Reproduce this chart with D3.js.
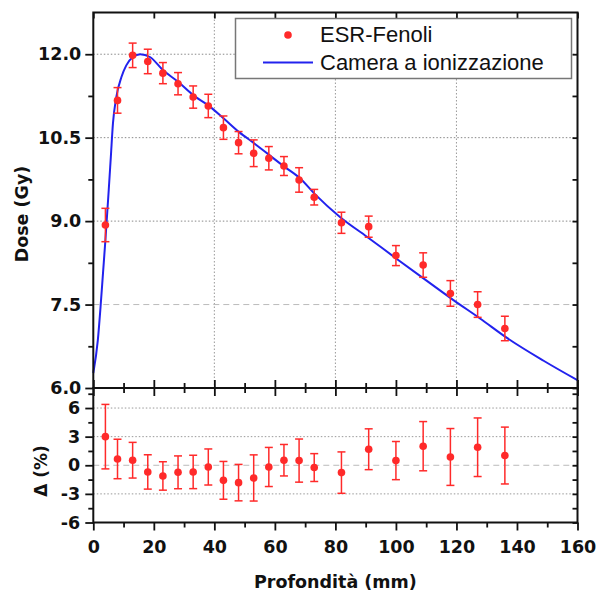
<!DOCTYPE html>
<html>
<head>
<meta charset="utf-8">
<script src="https://d3js.org/d3.v7.min.js"></script>
<style>
  body { margin:0; background:#fff; }
  svg { display:block; }
  .tick text { font-family:"DejaVu Sans", sans-serif; font-weight:bold; font-size:17.5px; fill:#111; }
  .tick line { stroke:#111; stroke-width:1.8; }
  .domain { display:none; }
</style>
</head>
<body>
<svg id="chart"></svg>
<script>
// punti ESR-Fenoli (profondita in mm)
var depth    = [4, 8, 13, 18, 23, 28, 33, 38, 43, 48, 53, 58, 63, 68, 73, 82, 91, 100, 109, 118, 127, 136];
var doseESR  = [8.93, 11.17, 11.98, 11.87, 11.66, 11.47, 11.23, 11.07, 10.68, 10.41, 10.22, 10.13, 9.99, 9.74, 9.43, 8.97, 8.90, 8.38, 8.21, 7.70, 7.50, 7.07];
var doseErr  = [0.30, 0.23, 0.22, 0.22, 0.19, 0.20, 0.20, 0.21, 0.21, 0.20, 0.24, 0.21, 0.17, 0.22, 0.14, 0.19, 0.19, 0.18, 0.22, 0.23, 0.23, 0.22];
var delta    = [3.0, 0.66, 0.53, -0.70, -1.12, -0.74, -0.70, -0.18, -1.58, -1.82, -1.33, -0.18, 0.53, 0.49, -0.24, -0.77, 1.68, 0.49, 2.0, 0.87, 1.89, 1.02];
var deltaErr = [3.38, 2.07, 1.87, 1.80, 1.49, 1.72, 1.75, 1.89, 1.98, 1.91, 2.42, 2.05, 1.65, 2.26, 1.46, 2.17, 2.14, 2.0, 2.58, 2.98, 3.07, 2.98];

// curva camera a ionizzazione
var chamberDepth = [0, 1.5, 2.4, 3.2, 4.0, 5.1, 5.8, 6.5, 7.6, 9.3, 10.9, 13.1, 15.5, 18.7, 23.1, 28.1, 33.1, 38.0, 43.2, 48.2, 53.1, 58.1, 63.1, 68.3, 73.3, 81.6, 90.4, 100.3, 109.1, 119, 127.8, 136.7, 148.8, 160];
var chamberDose  = [6.27, 6.86, 7.46, 8.06, 8.66, 9.56, 10.16, 10.76, 11.23, 11.59, 11.80, 11.95, 12.0, 11.95, 11.71, 11.50, 11.26, 11.08, 10.84, 10.60, 10.40, 10.19, 9.98, 9.77, 9.48, 9.07, 8.72, 8.32, 7.97, 7.58, 7.25, 6.90, 6.49, 6.14];

var xTicks      = [0, 20, 40, 60, 80, 100, 120, 140, 160];
var xMinor      = [10, 30, 50, 70, 90, 110, 130, 150];
var xGrid       = [40, 80, 120];
var doseTicks   = [6.0, 7.5, 9.0, 10.5, 12.0];
var doseMinor   = [6.75, 8.25, 9.75, 11.25];
var deltaTicks  = [-6, -3, 0, 3, 6];
var deltaMinor  = [-4.5, -1.5, 1.5, 4.5, 7.5];

var legendNames = ["ESR-Fenoli", "Camera a ionizzazione"];

var red = "#ff2a2a";
var blue = "#2222ee";

var screen = {width:596, height:599};
var left = 93.3, right = 577.5;
var topY = 12.5, midY = 388, botY = 522.5;

var svg = d3.select("#chart")
    .attr("width", screen.width)
    .attr("height", screen.height);

svg.append("rect").attr("width", screen.width).attr("height", screen.height).attr("fill", "#fff");

var xScale = d3.scaleLinear().domain([0, 160]).range([left, right]);
var yDose  = d3.scaleLinear().domain([6, 12.75]).range([midY, topY]);
var yDelta = d3.scaleLinear().domain([-6, 8.1]).range([botY, midY]);

// griglia
var drawGrid = function()
{
    var g = svg.append("g");
    g.selectAll(".vg")
        .data(xGrid)
        .enter()
        .append("line")
        .attr("x1", function(d){ return xScale(d); })
        .attr("x2", function(d){ return xScale(d); })
        .attr("y1", topY)
        .attr("y2", midY)
        .attr("stroke", "#999")
        .attr("stroke-width", 1)
        .attr("stroke-dasharray", "1.5,2");

    g.selectAll(".hg")
        .data(doseTicks.slice(1))
        .enter()
        .append("line")
        .attr("x1", left)
        .attr("x2", right)
        .attr("y1", function(d){ return yDose(d); })
        .attr("y2", function(d){ return yDose(d); })
        .attr("stroke", function(d){ return d == 7.5 ? "#bbb" : "#888"; })
        .attr("stroke-width", 1)
        .attr("stroke-dasharray", function(d){ return d == 7.5 ? "6,4" : "1.5,2"; });

    g.selectAll(".dg")
        .data(deltaTicks.slice(1))
        .enter()
        .append("line")
        .attr("x1", left)
        .attr("x2", right)
        .attr("y1", function(d){ return yDelta(d); })
        .attr("y2", function(d){ return yDelta(d); })
        .attr("stroke", function(d){ return d == 0 ? "#bbb" : "#999"; })
        .attr("stroke-width", 1)
        .attr("stroke-dasharray", function(d){ return d == 0 ? "6,4" : "1.5,2"; });
}

var drawAxes = function()
{
    // sinistra, pannello superiore
    svg.append("g")
        .attr("transform", "translate(" + left + ",0)")
        .call(d3.axisLeft(yDose).tickValues(doseTicks).tickSize(8).tickPadding(4)
              .tickFormat(function(d){ return d.toFixed(1); }));
    svg.append("g")
        .attr("transform", "translate(" + left + ",0)")
        .call(d3.axisLeft(yDose).tickValues(doseMinor).tickSize(5).tickFormat(""));

    // sinistra, pannello inferiore (trattino normale per i negativi)
    svg.append("g")
        .attr("transform", "translate(" + left + ",0)")
        .call(d3.axisLeft(yDelta).tickValues(deltaTicks).tickSize(8).tickPadding(5)
              .tickFormat(function(d){ return String(d); }));
    svg.append("g")
        .attr("transform", "translate(" + left + ",0)")
        .call(d3.axisLeft(yDelta).tickValues(deltaMinor).tickSize(5).tickFormat(""));

    // destra (tacche verso l'interno)
    svg.append("g")
        .attr("transform", "translate(" + right + ",0)")
        .call(d3.axisLeft(yDose).tickValues(doseTicks.concat(doseMinor)).tickSize(5).tickFormat(""));
    svg.append("g")
        .attr("transform", "translate(" + right + ",0)")
        .call(d3.axisLeft(yDelta).tickValues(deltaTicks.concat(deltaMinor)).tickSize(5).tickFormat(""));

    // asse x in basso
    svg.append("g")
        .attr("transform", "translate(0," + botY + ")")
        .call(d3.axisBottom(xScale).tickValues(xTicks).tickSize(8).tickPadding(10));
    svg.append("g")
        .attr("transform", "translate(0," + botY + ")")
        .call(d3.axisBottom(xScale).tickValues(xMinor).tickSize(5).tickFormat(""));

    // asse centrale, tacche incrociate
    svg.append("g")
        .attr("transform", "translate(0," + (midY - 8) + ")")
        .call(d3.axisBottom(xScale).tickValues(xTicks).tickSize(16).tickFormat(""));
    svg.append("g")
        .attr("transform", "translate(0," + (midY - 5) + ")")
        .call(d3.axisBottom(xScale).tickValues(xMinor).tickSize(10).tickFormat(""));

    // bordo superiore
    svg.append("g")
        .attr("transform", "translate(0," + topY + ")")
        .call(d3.axisBottom(xScale).tickValues(xTicks).tickSize(6).tickFormat(""));

    // cornici
    svg.append("rect")
        .attr("x", left).attr("y", topY)
        .attr("width", right - left).attr("height", midY - topY)
        .attr("fill", "none").attr("stroke", "#111").attr("stroke-width", 2);
    svg.append("rect")
        .attr("x", left).attr("y", midY)
        .attr("width", right - left).attr("height", botY - midY)
        .attr("fill", "none").attr("stroke", "#111").attr("stroke-width", 2);
}

var drawErrorBars = function(target, values, errors, yScale)
{
    var pts = depth.map(function(d, i){ return {x:d, y:values[i], e:errors[i]}; });
    var g = target.append("g")
        .attr("stroke", red)
        .attr("stroke-width", 1.5);

    g.selectAll(".bar")
        .data(pts)
        .enter()
        .append("line")
        .attr("x1", function(p){ return xScale(p.x); })
        .attr("x2", function(p){ return xScale(p.x); })
        .attr("y1", function(p){ return yScale(p.y - p.e); })
        .attr("y2", function(p){ return yScale(p.y + p.e); });

    [-1, 1].forEach(function(s)
    {
        g.selectAll(".cap" + s)
            .data(pts)
            .enter()
            .append("line")
            .attr("x1", function(p){ return xScale(p.x) - 4; })
            .attr("x2", function(p){ return xScale(p.x) + 4; })
            .attr("y1", function(p){ return yScale(p.y + s * p.e); })
            .attr("y2", function(p){ return yScale(p.y + s * p.e); });
    });

    target.append("g")
        .selectAll("circle")
        .data(pts)
        .enter()
        .append("circle")
        .attr("cx", function(p){ return xScale(p.x); })
        .attr("cy", function(p){ return yScale(p.y); })
        .attr("r", 3.8)
        .attr("fill", red);
}

var drawLines = function()
{
    var line = d3.line()
        .x(function(d){ return xScale(d[0]); })
        .y(function(d){ return yDose(d[1]); })
        .curve(d3.curveMonotoneX);

    svg.append("path")
        .datum(chamberDepth.map(function(d, i){ return [d, chamberDose[i]]; }))
        .attr("fill", "none")
        .attr("stroke", blue)
        .attr("stroke-width", 2)
        .attr("d", line);

    drawErrorBars(svg, doseESR, doseErr, yDose);
    drawErrorBars(svg, delta, deltaErr, yDelta);
}

var drawLegend = function()
{
    var legend = svg.append("g");
    legend.append("rect")
        .attr("x", 235.5).attr("y", 18.5)
        .attr("width", 336).attr("height", 60)
        .attr("fill", "#fff")
        .attr("stroke", "#777")
        .attr("stroke-width", 1.5);

    legend.append("circle")
        .attr("cx", 288).attr("cy", 35).attr("r", 3.8)
        .attr("fill", red);
    legend.append("line")
        .attr("x1", 263).attr("x2", 313)
        .attr("y1", 62.5).attr("y2", 62.5)
        .attr("stroke", blue).attr("stroke-width", 2);

    legend.selectAll("text")
        .data(legendNames)
        .enter()
        .append("text")
        .text(function(d){ return d; })
        .attr("x", 320)
        .attr("y", function(d, i){ return 42 + i * 28; })
        .attr("font-family", "'Liberation Sans', Arial, sans-serif")
        .attr("font-size", 22)
        .attr("fill", "#111");
}

var drawLabels = function()
{
    var font = "'DejaVu Sans', sans-serif";
    svg.append("text")
        .text("Profondità (mm)")
        .attr("x", (left + right) / 2)
        .attr("y", 588)
        .attr("text-anchor", "middle")
        .attr("font-family", font)
        .attr("font-weight", "bold")
        .attr("font-size", 17.5)
        .attr("fill", "#111");

    svg.append("text")
        .text("Dose (Gy)")
        .attr("transform", "translate(28,214) rotate(-90)")
        .attr("text-anchor", "middle")
        .attr("font-family", font)
        .attr("font-weight", "bold")
        .attr("font-size", 17.5)
        .attr("fill", "#111");

    svg.append("text")
        .text("Δ (%)")
        .attr("transform", "translate(47,471) rotate(-90)")
        .attr("text-anchor", "middle")
        .attr("font-family", font)
        .attr("font-weight", "bold")
        .attr("font-size", 17)
        .attr("fill", "#111");
}

drawGrid();
drawLines();
drawAxes();
drawLegend();
drawLabels();
</script>
</body>
</html>
